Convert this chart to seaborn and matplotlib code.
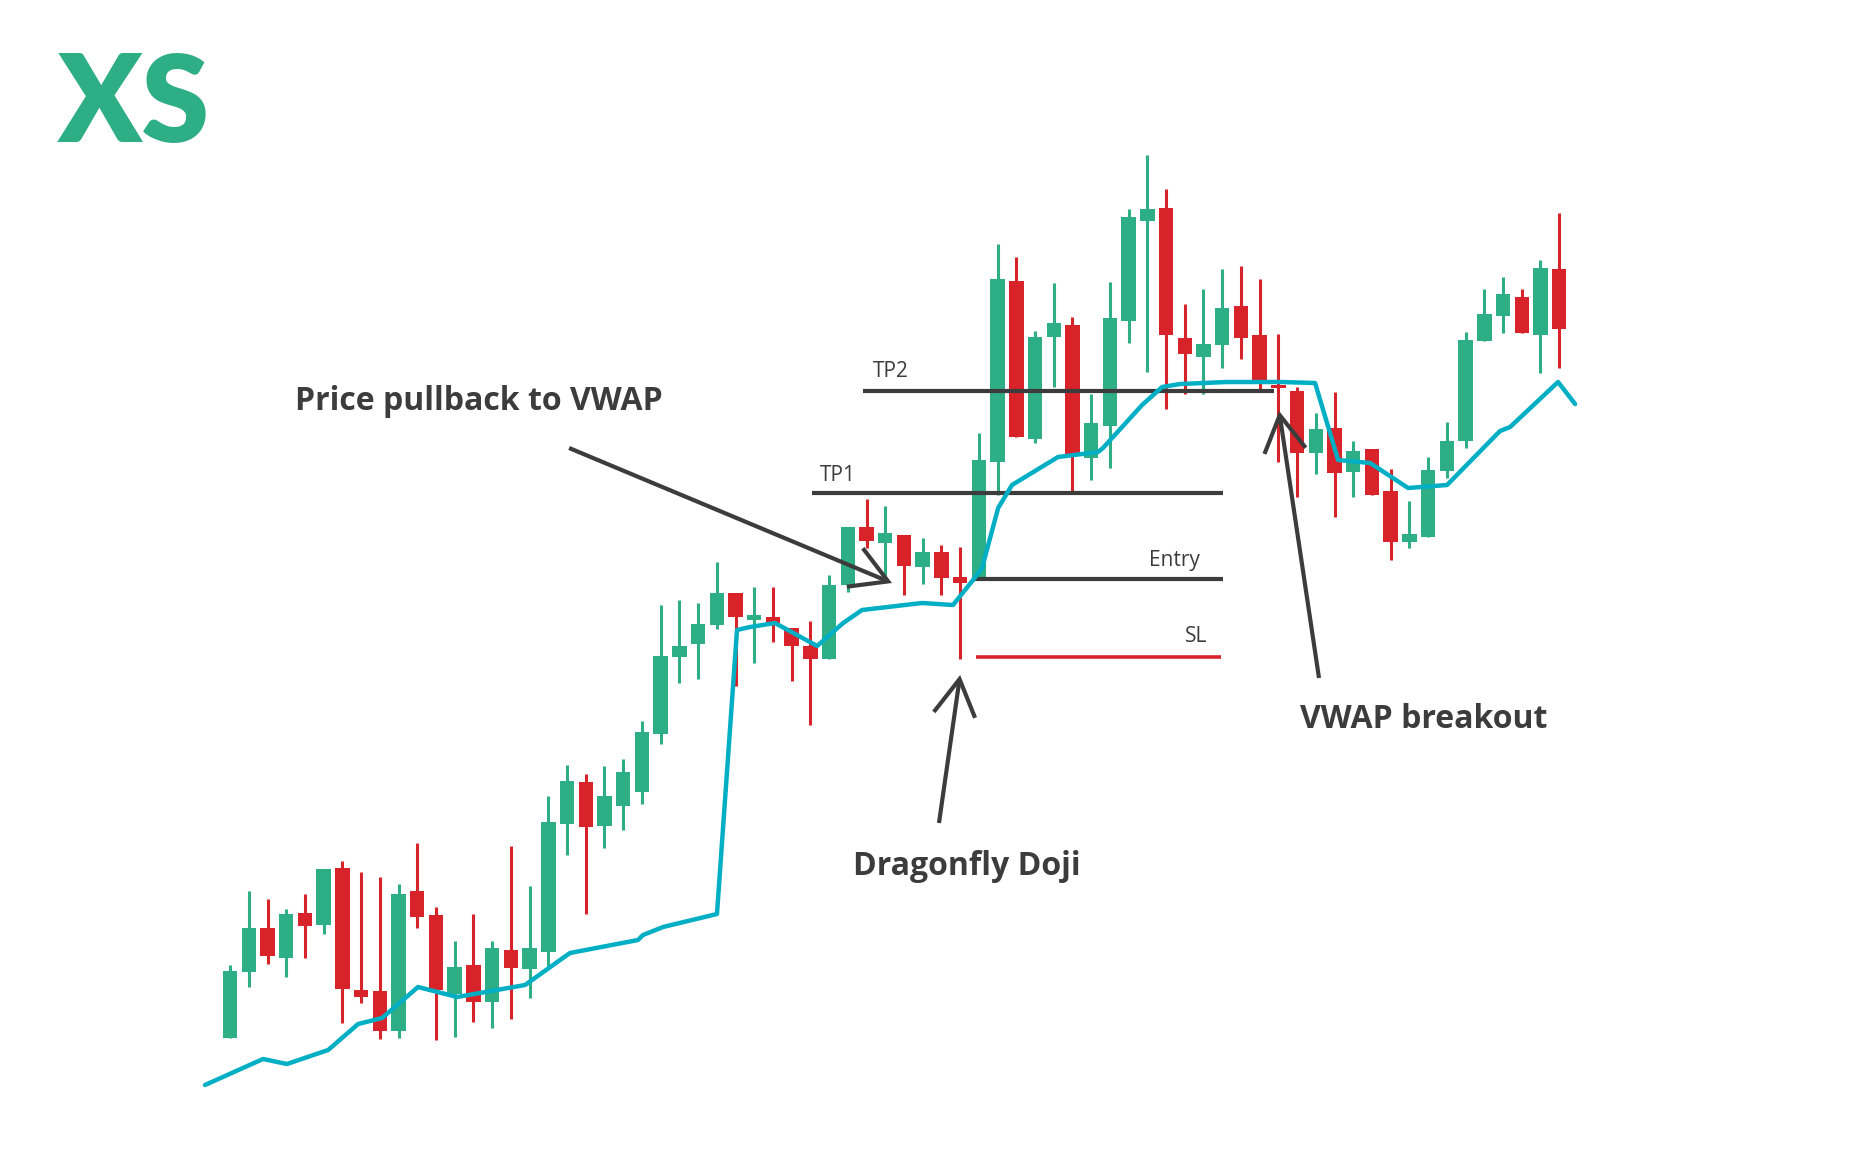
"""
VWAP pullback strategy chart: candles, VWAP line, trade levels and notes.
"""
import pandas as pd
import seaborn as sns
import matplotlib
from matplotlib import pyplot as plt
matplotlib.use('Agg')

sns.set_style("white")
plt.rcParams['font.family'] = ['Open Sans', 'DejaVu Sans']

GREEN = '#2eae84'
RED = '#d9232b'
CYAN = '#00afc4'
DARK = '#3c3c3c'

## candle prices, one entry per bar
opens = [112.4, 119.0, 123.4, 120.4, 124.9, 123.7, 129.4, 117.2, 117.1, 113.1,
         127.1, 124.7, 116.8, 119.7, 116.0, 121.2, 119.3, 121.0, 133.8, 138.0,
         133.6, 135.6, 137.0, 142.8, 150.5, 151.8, 153.7, 156.9, 154.2, 154.5,
         153.4, 151.6, 150.3, 157.7, 163.5, 161.9, 162.7, 159.5, 161.0, 158.5,
         158.4, 170.0, 188.1, 172.3, 182.5, 183.7, 170.4, 173.6, 184.1, 194.1,
         195.4, 182.4, 180.5, 181.7, 185.6, 182.7, 177.7, 177.1, 170.9, 173.4,
         169.0, 171.3, 167.1, 162.0, 162.5, 169.1, 172.1, 182.1, 184.6, 186.5,
         182.7, 189.3]
highs = [119.7, 127.1, 126.3, 125.3, 126.8, 129.3, 130.1, 129.0, 128.5, 127.8,
         131.9, 125.5, 122.1, 124.8, 122.1, 131.6, 127.6, 136.6, 139.7, 138.8,
         139.6, 140.3, 144.1, 155.7, 156.2, 155.9, 160.0, 156.9, 157.5, 157.5,
         153.4, 154.1, 158.7, 163.5, 166.3, 165.6, 162.7, 162.4, 161.7, 161.5,
         172.9, 191.8, 190.5, 183.1, 187.9, 184.5, 176.8, 188.0, 195.3, 200.7,
         197.3, 185.8, 187.3, 189.3, 189.6, 188.3, 182.8, 177.5, 174.9, 177.0,
         172.1, 171.3, 169.3, 166.1, 170.5, 174.0, 183.0, 187.3, 188.5, 187.3,
         190.2, 194.9]
lows = [112.4, 117.5, 119.8, 118.5, 120.4, 122.8, 113.9, 115.9, 112.3, 112.4,
        123.4, 112.2, 112.5, 114.0, 113.4, 114.3, 116.4, 119.5, 130.7, 124.8,
        131.4, 133.2, 135.8, 141.8, 147.9, 148.3, 153.3, 147.6, 149.9, 152.0,
        148.1, 143.7, 150.3, 157.0, 161.4, 158.5, 156.7, 157.8, 156.7, 150.3,
        158.4, 166.7, 172.5, 171.9, 177.5, 167.0, 168.2, 169.4, 181.9, 179.0,
        175.3, 176.8, 176.8, 179.4, 180.3, 177.2, 170.0, 166.5, 168.8, 164.5,
        166.5, 166.7, 160.2, 161.4, 162.5, 168.4, 171.4, 182.1, 182.9, 182.9,
        178.9, 179.4]
closes = [119.1, 123.4, 120.6, 124.8, 123.6, 129.3, 117.3, 116.5, 113.1, 126.8,
          124.5, 117.2, 119.5, 116.0, 121.4, 119.4, 121.4, 134.0, 138.1, 133.5,
          136.6, 139.0, 143.0, 150.6, 151.6, 153.8, 156.9, 154.5, 154.7, 153.9,
          151.6, 150.3, 157.7, 163.5, 162.1, 162.9, 159.6, 161.0, 158.4, 157.9,
          170.2, 188.3, 172.5, 182.5, 183.9, 170.7, 173.9, 184.4, 194.5, 195.3,
          182.7, 180.8, 181.8, 185.4, 182.4, 178.2, 177.4, 170.9, 173.3, 168.9,
          171.1, 166.7, 162.0, 162.8, 169.2, 172.1, 182.2, 184.8, 186.8, 182.9,
          189.4, 183.3]

## VWAP line (bar position, price)
vwap_x = [-1.34, 1.76, 3.04, 5.24, 6.84, 8.12, 10.04, 12.13, 15.76, 17.63,
          18.16, 21.79, 22.06, 23.13, 26.01, 27.08, 27.78, 29.11, 31.36, 32.75,
          33.76, 36.97, 38.62, 39.69, 40.17, 41.03, 41.77, 44.23, 46.37, 46.63,
          48.72, 49.79, 50.75, 53.26, 56.09, 57.96, 59.19, 60.90, 62.93, 65.01,
          67.84, 68.38, 70.94, 71.85]
vwap_y = [107.7, 110.3, 109.8, 111.2, 113.8, 114.4, 117.5, 116.5, 117.7, 120.2,
          120.9, 122.2, 122.7, 123.5, 124.8, 153.2, 153.5, 153.9, 151.6, 153.9,
          155.2, 155.9, 155.7, 158.2, 159.4, 165.4, 167.7, 170.5, 171.0, 171.4,
          175.7, 177.5, 177.8, 178.0, 178.0, 177.9, 170.2, 169.9, 167.4, 167.7,
          173.1, 173.5, 178.0, 175.8]

## trade levels: name, price, start bar, end bar
level_names = ['TP2', 'TP1', 'Entry', 'SL']
level_prices = [177.1, 166.9, 158.25, 150.5]
level_start = [33.81, 31.09, 39.74, 39.85]
level_end = [55.77, 53.04, 53.04, 52.94]

df = pd.DataFrame({'open': opens, 'high': highs, 'low': lows, 'close': closes})
df['bar'] = range(len(df))
df['up'] = df['close'] >= df['open']
df['color'] = [GREEN if u else RED for u in df['up']]
df['body_lo'] = df[['open', 'close']].min(axis=1)
df['body_h'] = (df['open'] - df['close']).abs()

fig = plt.figure(figsize=(18.6, 11.62), dpi=100)
ax = fig.add_axes([0, 0, 1, 1])

# wicks then bodies
ax.vlines(df['bar'], df['low'], df['high'], colors=df['color'], lw=2.2, zorder=2)
ax.bar(df['bar'], df['body_h'], bottom=df['body_lo'], width=0.77,
       color=df['color'], edgecolor='none', zorder=3)

# trade levels
for name, p, x0, x1 in zip(level_names, level_prices, level_start, level_end):
    c = RED if name == 'SL' else DARK
    ax.hlines(p, x0, x1, colors=c, lw=3 if name != 'SL' else 2.6, zorder=4)

ax.text(34.35, 178.5, 'TP2', fontsize=15, color=DARK, va='baseline', ha='left')
ax.text(31.52, 168.1, 'TP1', fontsize=15, color=DARK, va='baseline', ha='left')
ax.text(51.82, 159.6, 'Entry', fontsize=15, color=DARK, va='baseline', ha='right')
ax.text(52.19, 152.0, 'SL', fontsize=15, color=DARK, va='baseline', ha='right')

vw = pd.DataFrame({'x': vwap_x, 'y': vwap_y})
sns.lineplot(data=vw, x='x', y='y', sort=False, estimator=None, color=CYAN,
             lw=3.2, ax=ax, zorder=5)

# notes with open arrows
arrow = dict(arrowstyle='->,head_length=1.3,head_width=0.75', color=DARK, lw=3,
             shrinkA=0, shrinkB=0, mutation_scale=20, joinstyle='miter', capstyle='butt')
ax.annotate('', xy=(35.36, 157.9), xytext=(18.11, 171.4), arrowprops=arrow, zorder=6)
ax.annotate('', xy=(39.0, 148.7), xytext=(37.87, 133.9), arrowprops=arrow, zorder=6)
ax.annotate('', xy=(56.04, 175.1), xytext=(58.17, 148.4), arrowprops=arrow, zorder=6)

note = dict(fontsize=23, fontweight='bold', color=DARK, va='baseline', ha='left')
ax.text(3.47, 175.2, 'Price pullback to VWAP', **note)
ax.text(33.28, 128.7, 'Dragonfly Doji', **note)
ax.text(57.16, 143.4, 'VWAP breakout', **note)

# logo
fig.text(0.0312, 1 - 142 / 1162, 'XS', fontsize=88, fontweight='heavy',
         color=GREEN, va='baseline', ha='left', family=['Lato', 'DejaVu Sans'])

ax.set_xlim(-12.29, 87.07)
ax.set_ylim(100, 216.2)
ax.axis('off')

fig.savefig('out.png', dpi=100, facecolor='white')
